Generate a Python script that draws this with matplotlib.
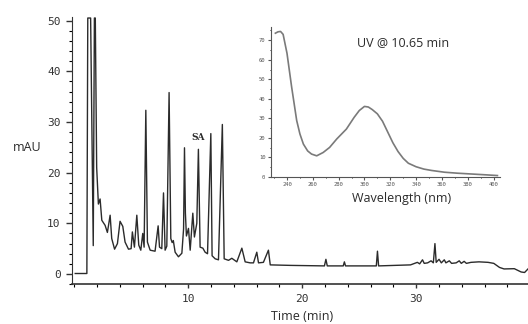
import matplotlib
matplotlib.use("Agg")
import matplotlib.pyplot as plt
from matplotlib.ticker import MultipleLocator

# ── Chromatogram (time in min, absorbance in mAU) ───────────────────
chrom_time = [
    0.1, 1.12, 1.2, 1.45, 1.68, 1.78, 1.86, 1.98, 2.13, 2.28, 2.43, 2.72,
    2.92, 3.16, 3.3, 3.55, 3.8, 4.03, 4.27, 4.47, 4.77, 5.0, 5.11, 5.29,
    5.5, 5.67, 5.85, 6.02, 6.14, 6.29, 6.43, 6.67, 7.1, 7.37, 7.49, 7.69,
    7.84, 7.98, 8.13, 8.33, 8.48, 8.6, 8.7, 8.86, 9.15, 9.45, 9.6, 9.68,
    9.76, 9.85, 10.03, 10.18, 10.41, 10.55, 10.76, 10.9, 11.05, 11.29,
    11.49, 11.7, 11.99, 12.1, 12.37, 12.66, 13.0, 13.16, 13.54, 13.83,
    14.27, 14.71, 15.0, 15.44, 15.73, 16.02, 16.17, 16.6, 17.04, 17.2,
    19.0, 21.95, 22.08, 22.2, 23.6, 23.7, 23.8, 26.5, 26.6, 26.7, 29.5,
    30.1, 30.3, 30.55, 30.7, 31.0, 31.3, 31.5, 31.64, 31.75, 32.0, 32.2,
    32.46, 32.6, 32.9, 33.1, 33.5, 33.77, 33.95, 34.2, 34.4, 34.8, 35.5,
    36.3, 36.8, 37.3, 37.7, 38.6, 39.2, 39.5, 39.8,
]
chrom_mau = [
    0.1, 0.1, 50.5, 50.5, 5.6, 50.5, 50.5, 21.0, 13.8, 14.8, 10.6, 9.6,
    8.2, 11.6, 7.0, 4.9, 6.0, 10.4, 9.4, 6.3, 4.9, 5.0, 8.3, 5.3,
    11.6, 5.7, 4.7, 8.0, 5.3, 32.3, 6.3, 4.7, 4.5, 9.5, 5.3, 5.0,
    16.0, 4.7, 5.5, 35.8, 7.0, 6.2, 6.6, 4.3, 3.4, 4.1, 8.9, 24.9,
    12.0, 7.5, 9.0, 4.7, 12.0, 7.3, 10.0, 24.6, 5.3, 5.1,
    4.3, 4.0, 27.7, 3.6, 3.0, 2.8, 29.5, 3.0, 2.7, 3.1,
    2.4, 5.1, 2.4, 2.2, 2.2, 4.3, 2.2, 2.3, 4.7, 1.8,
    1.7, 1.6, 2.9, 1.6, 1.6, 2.4, 1.6, 1.6, 4.5, 1.6, 1.8,
    2.3, 2.0, 2.8, 2.1, 2.2, 2.6, 2.2, 6.0, 2.3, 2.9, 2.2,
    2.8, 2.2, 2.6, 2.1, 2.2, 2.6, 2.1, 2.5, 2.1, 2.3, 2.4,
    2.3, 2.1, 1.3, 1.0, 1.05, 0.4, 0.3, 1.0,
]

# ── UV spectrum at 10.65 min ────────────────────────────────────────
uv_nm = [231, 233, 235, 237, 240, 243.6, 247.5, 250, 252.7, 256, 259, 263,
         268, 273, 278.5, 286, 292, 296, 300, 303, 306, 310, 314, 318, 322,
         326, 330, 334, 340, 346, 352, 362, 372, 382.5, 393, 403]
uv_abs = [73.6, 74.3, 74.5, 73.0, 63.3, 46.0, 28.9, 22.0, 16.8, 13.3, 11.7, 10.8,
          12.5, 15.1, 19.4, 24.5, 30.5, 34.0, 36.1, 35.8, 34.5, 32.3, 28.5, 23.0,
          17.5, 13.0, 9.5, 7.0, 5.2, 4.0, 3.3, 2.4, 1.9, 1.5, 1.1, 0.7]

main_xticks = [10, 20, 30]
main_yticks = [0, 10, 20, 30, 40, 50]
uv_xticks = [240, 260, 280, 300, 320, 340, 360, 380, 400]
uv_yticks = [0, 10, 20, 30, 40, 50, 60, 70]

INK = "#2b2b2b"
LABEL_FONT = ["Open Sans", "DejaVu Sans"]
TICK_FONT = "DejaVu Sans Mono"


def style_axis(ax, color, size):
    for side in ("top", "right"):
        ax.spines[side].set_visible(False)
    for side in ("left", "bottom"):
        ax.spines[side].set_color(color)
    ax.tick_params(colors=color, labelsize=size)
    for lbl in ax.get_xticklabels() + ax.get_yticklabels():
        lbl.set_fontfamily(TICK_FONT)


fig = plt.figure(figsize=(5.28, 3.24), dpi=100)
fig.patch.set_facecolor("white")

# ── Main chromatogram ───────────────────────────────────────────────
ax = fig.add_axes([0.136, 0.123, 0.864, 0.8245])
ax.plot(chrom_time, chrom_mau, color=INK, lw=1.0)
ax.set_xlim(-0.2, 39.8)
ax.set_ylim(-2, 50.7)
ax.set_xticks(main_xticks)
ax.set_yticks(main_yticks)
ax.xaxis.set_minor_locator(MultipleLocator(2))
ax.yaxis.set_minor_locator(MultipleLocator(2))
ax.tick_params(axis="y", which="major", length=4, width=1.0, pad=4)
ax.tick_params(axis="y", which="minor", length=2, width=0.8)
ax.tick_params(axis="x", which="major", length=3, width=1.0, pad=4)
ax.tick_params(axis="x", which="minor", length=2, width=0.8)
style_axis(ax, "#333333", 8)
ax.spines["bottom"].set_linewidth(1.2)
ax.text(10.88, 27.0, "SA", ha="center", va="center", fontsize=6.5,
        fontweight="bold", family="DejaVu Serif", color=INK)

# ── Inset: UV spectrum ──────────────────────────────────────────────
ins = fig.add_axes([0.513, 0.454, 0.434, 0.464])
ins.patch.set_alpha(0)
ins.plot(uv_nm, uv_abs, color="#7a7a7a", lw=1.2)
ins.set_xlim(227.5, 405)
ins.set_ylim(0, 77)
ins.set_xticks(uv_xticks)
ins.set_yticks(uv_yticks)
ins.xaxis.set_minor_locator(MultipleLocator(10))
ins.yaxis.set_minor_locator(MultipleLocator(5))
ins.tick_params(which="major", length=2, width=0.8, pad=2)
ins.tick_params(which="minor", length=1, width=0.6)
style_axis(ins, "#555555", 4)

# ── Labels ──────────────────────────────────────────────────────────
fig.text(0.051, 0.546, "mAU", ha="center", va="center", fontsize=9,
         family=LABEL_FONT, color=INK)
fig.text(0.572, 0.022, "Time (min)", ha="center", va="center", fontsize=9,
         family=LABEL_FONT, color=INK)
fig.text(0.763, 0.870, "UV @ 10.65 min", ha="center", va="center",
         fontsize=9, family=LABEL_FONT, color=INK)
fig.text(0.761, 0.386, "Wavelength (nm)", ha="center", va="center",
         fontsize=9, family=LABEL_FONT, color=INK)

fig.savefig("out.png", dpi=100, facecolor="white")
